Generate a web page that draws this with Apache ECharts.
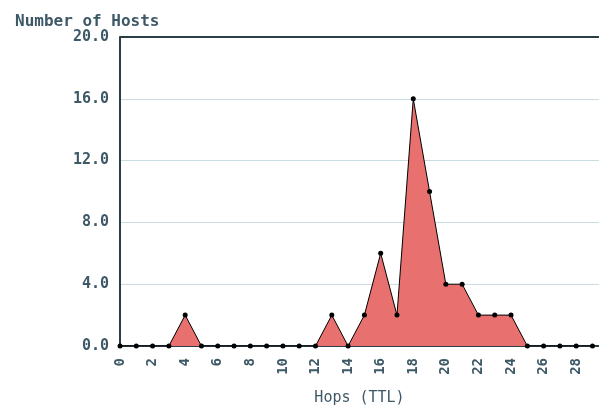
<!DOCTYPE html>
<html>
<head>
<meta charset="utf-8">
<script src="https://cdn.jsdelivr.net/npm/echarts@6/dist/echarts.min.js"></script>
<style>
  html, body { margin: 0; padding: 0; background: #fff; }
  #chart { width: 599px; height: 407px; }
</style>
</head>
<body>
<div id="chart"></div>
<script>
// 跳数 (TTL) 与主机数
const hops = [0, 1, 2, 3, 4, 5, 6, 7, 8, 9, 10, 11, 12, 13, 14, 15, 16, 17, 18, 19, 20, 21, 22, 23, 24, 25, 26, 27, 28, 29];
const hosts = [0, 0, 0, 0, 2, 0, 0, 0, 0, 0, 0, 0, 0, 2, 0, 2, 6, 2, 16, 10, 4, 4, 2, 2, 2, 0, 0, 0, 0, 0];
const yTicks = [0, 4, 8, 12, 16, 20];

const textColor = '#3d5866';
const fontFamily = '"DejaVu Sans Mono", monospace';

const chart = echarts.init(document.getElementById('chart'));
chart.setOption({
    animation: false,
    title: {
        text: 'Number of Hosts',
        left: 10,
        top: 9,
        textStyle: {
            fontFamily: fontFamily,
            fontSize: 16,
            fontWeight: 'bold',
            color: textColor
        }
    },
    grid: {
        left: 120,
        right: 0,
        top: 37,
        bottom: 61,
        outerBoundsMode: 'none'
    },
    xAxis: {
        type: 'value',
        min: 0,
        max: 29.4,
        interval: 2,
        name: 'Hops (TTL)',
        nameLocation: 'middle',
        nameGap: 45,
        nameTextStyle: {
            fontFamily: fontFamily,
            fontSize: 15,
            color: textColor
        },
        axisLine: { lineStyle: { color: '#2b3d45', width: 2 } },
        axisTick: { show: false },
        splitLine: { show: false },
        axisLabel: {
            rotate: 90,
            showMaxLabel: false,
            margin: 12,
            fontFamily: fontFamily,
            fontSize: 14,
            fontWeight: 'bold',
            color: textColor
        }
    },
    yAxis: {
        type: 'value',
        min: yTicks[0],
        max: yTicks[yTicks.length - 1],
        interval: 4,
        axisLine: { show: true, lineStyle: { color: '#2b3d45', width: 2 } },
        axisTick: { show: false },
        splitLine: { lineStyle: { color: '#c9dbe3', width: 1 } },
        axisLabel: {
            margin: 11,
            formatter: function (v) { return v.toFixed(1); },
            fontFamily: fontFamily,
            fontSize: 15,
            fontWeight: 'bold',
            color: textColor
        }
    },
    series: [{
        type: 'line',
        data: hops.map(function (h, i) { return [h, hosts[i]]; }),
        symbol: 'circle',
        symbolSize: 5,
        itemStyle: { color: '#000' },
        lineStyle: { color: '#000', width: 1 },
        areaStyle: { color: '#e8716f', opacity: 1 },
        markLine: {
            silent: true,
            symbol: 'none',
            label: { show: false },
            lineStyle: { color: '#2b3d45', width: 2, type: 'solid' },
            data: [{ yAxis: yTicks[yTicks.length - 1] }]
        }
    }]
});
</script>
</body>
</html>
